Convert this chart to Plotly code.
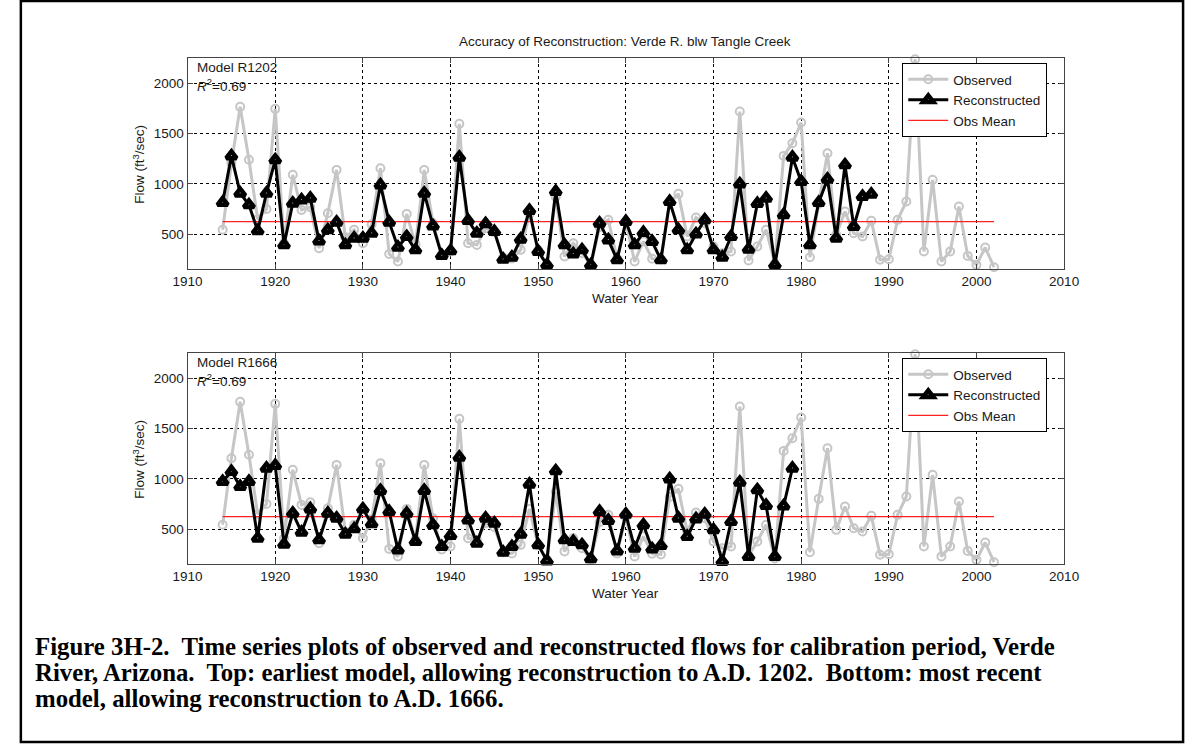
import plotly.graph_objects as go

# ---------------- data ----------------
obs_years = list(range(1914, 2003))
observed = [545, 1205, 1765, 1240, 650, 750, 1745, 410, 1090, 742,
            768, 362, 709, 1139, 470, 544, 411, 600, 1156, 305,
            229, 702, 400, 1139, 610, 300, 328, 1596, 411, 394,
            560, 520, 270, 260, 345, 700, 340, 200, 870, 280,
            411, 312, 200, 570, 643, 260, 620, 229, 430, 256,
            250, 820, 901, 477, 666, 610, 378, 312, 328, 1719,
            239, 378, 544, 210, 1278, 1404, 1609, 272, 802, 1305,
            494, 726, 510, 477, 633, 246, 252, 643, 825, 2238,
            329, 1040, 229, 329, 775, 285, 196, 368, 173]

rec1202_years = list(range(1914, 1989))
rec1202 = [815, 1278, 908, 792, 534, 908, 1239, 395, 808, 841,
           858, 434, 544, 620, 395, 461, 461, 510, 990, 620,
           371, 477, 345, 908, 583, 289, 335, 1265, 636, 510,
           605, 527, 252, 272, 451, 736, 329, 196, 924, 395,
           305, 345, 196, 610, 444, 246, 626, 395, 517, 428,
           246, 825, 544, 345, 503, 643, 345, 272, 477, 1000,
           352, 805, 858, 196, 693, 1265, 1024, 395, 815, 1047,
           461, 1189, 577, 875, 898]

rec1666_years = list(range(1914, 1980))
rec1666 = [974, 1073, 924, 974, 411, 1106, 1133, 351, 659, 471,
           702, 395, 659, 610, 451, 504, 702, 554, 885, 676,
           295, 659, 378, 885, 544, 328, 438, 1216, 593, 361,
           610, 560, 272, 328, 451, 947, 345, 186, 1080, 395,
           378, 345, 206, 676, 587, 285, 650, 312, 544, 305,
           338, 1000, 610, 428, 603, 650, 494, 180, 577, 967,
           229, 891, 736, 229, 732, 1106]

obs_mean = 626
mean_years = [1914, 2002]

panels = [
    {"model": "Model R1202", "r2": "0.69", "years": rec1202_years, "rec": rec1202},
    {"model": "Model R1666", "r2": "0.69", "years": rec1666_years, "rec": rec1666},
]

x_ticks = [1910, 1920, 1930, 1940, 1950, 1960, 1970, 1980, 1990, 2000, 2010]
y_ticks = [500, 1000, 1500, 2000]
x_range = [1910, 2010]
y_range = [155, 2250]

title_text = "Accuracy of Reconstruction: Verde R. blw Tangle Creek"
caption_lines = [
    "Figure 3H-2.  Time series plots of observed and reconstructed flows for calibration period, Verde",
    "River, Arizona.  Top: earliest model, allowing reconstruction to A.D. 1202.  Bottom: most recent",
    "model, allowing reconstruction to A.D. 1666.",
]

# ---------------- layout geometry ----------------
W, H = 1201, 744
def px(x):
    return x / W
def py(y):
    return 1 - y / H

x_dom = [px(177), px(1076)]
y_doms = [[py(269), py(58)], [py(564), py(353)]]
offsets = [0, 295]

GRAY = "#c6c6c6"
FONT = "Liberation Sans, Arial, sans-serif"
TXT = "#1a1a1a"
FS = 13.5

fig = go.Figure()

for i, p in enumerate(panels):
    xa = "x" if i == 0 else "x2"
    ya = "y" if i == 0 else "y2"
    lg = "legend" if i == 0 else "legend2"
    fig.add_trace(go.Scatter(
        x=obs_years, y=observed, mode="lines+markers", name="Observed",
        line=dict(color=GRAY, width=3),
        marker=dict(symbol="circle-open", size=8, color=GRAY, line=dict(width=2, color=GRAY)),
        xaxis=xa, yaxis=ya, legend=lg, legendrank=1, cliponaxis=False))
    fig.add_trace(go.Scatter(
        x=mean_years, y=[obs_mean, obs_mean], mode="lines", name="Obs Mean",
        line=dict(color="#ff2020", width=1.2),
        xaxis=xa, yaxis=ya, legend=lg, legendrank=3))
    fig.add_trace(go.Scatter(
        x=p["years"], y=p["rec"], mode="lines+markers", name="Reconstructed",
        line=dict(color="black", width=3),
        marker=dict(symbol="triangle-up", size=9, color="white", line=dict(width=4.5, color="black")),
        xaxis=xa, yaxis=ya, legend=lg, legendrank=2, cliponaxis=False))

axis_common = dict(
    showline=True, mirror="ticks", linecolor="#444444", linewidth=1.2,
    ticks="inside", ticklen=5, tickcolor="#444444",
    showgrid=True, gridcolor="black", gridwidth=1, griddash="dot",
    zeroline=False, tickfont=dict(family=FONT, size=FS, color=TXT),
)

layout = dict(
    width=W, height=H, margin=dict(l=0, r=0, t=0, b=0),
    paper_bgcolor="white", plot_bgcolor="white",
    font=dict(family=FONT, color=TXT),
)
for i in range(2):
    sx = "" if i == 0 else "2"
    layout["xaxis" + sx] = dict(axis_common, domain=x_dom, range=x_range,
                                tickvals=x_ticks, anchor="y" + sx)
    layout["yaxis" + sx] = dict(axis_common, domain=y_doms[i], range=y_range,
                                tickvals=y_ticks, anchor="x" + sx)
    leg = dict(x=px(910), y=py(63 + offsets[i]), xanchor="left", yanchor="top",
               bgcolor="white", bordercolor="black", borderwidth=1,
               font=dict(family=FONT, size=FS, color=TXT),
               tracegroupgap=0, itemwidth=40)
    layout["legend" if i == 0 else "legend2"] = leg

fig.update_layout(**layout)

def ann(text, x, y, size=FS, xanchor="center", angle=0, family=FONT, color=TXT):
    return dict(text=text, x=px(x), y=py(y), xref="paper", yref="paper",
                xanchor=xanchor, yanchor="middle", textangle=angle, showarrow=False,
                font=dict(family=family, size=size, color=color))

annotations = [ann(title_text, 626, 42)]
for i, p in enumerate(panels):
    o = offsets[i]
    annotations.append(ann(p["model"], 185, 67 + o, xanchor="left"))
    annotations.append(ann("<i>R</i><sup>2</sup>=" + p["r2"], 185, 85 + o, xanchor="left"))
    annotations.append(ann("Water Year", 626, 298 + o))
    annotations.append(ann("Flow (ft<sup>3</sup>/sec)", 127, 164 + o, angle=-90))
for j, line in enumerate(caption_lines):
    annotations.append(ann("<b>" + line + "</b>", 18, 646 + 26 * j, size=24.8, xanchor="left",
                           family="Liberation Serif, Times New Roman, serif", color="black"))
fig.update_layout(annotations=annotations)

fig.add_shape(type="rect", xref="paper", yref="paper", x0=px(6), x1=px(1198), y0=py(742), y1=py(1),
              line=dict(color="black", width=2.5), fillcolor="rgba(0,0,0,0)")

fig.write_html("out.html", config={"displayModeBar": False},
               post_script="document.body.style.margin='0';document.body.style.overflow='hidden';")
